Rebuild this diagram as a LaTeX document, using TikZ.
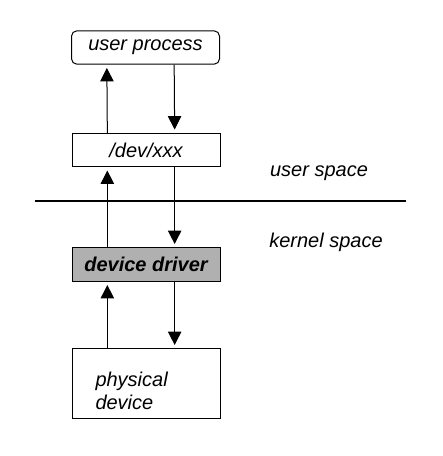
\documentclass[tikz,border=0pt]{standalone}
\usepackage{fontspec}
\setmainfont{Liberation Sans}
\usetikzlibrary{arrows.meta}

\tikzset{every picture/.style={line width=0.75pt}}
\tikzset{
  layerbox/.style={draw, minimum width=111pt, minimum height=25pt, inner sep=0pt, font=\fontsize{15}{18}\selectfont\itshape},
  flow/.style={-{Triangle[width=10pt,length=10pt]}, shorten >=2.5pt},
  spacelbl/.style={inner sep=0.75pt, font=\fontsize{15}{18}\selectfont\itshape}
}

\begin{document}
\begin{tikzpicture}[x=0.75pt,y=0.75pt,yscale=-1,xscale=1]
    \useasboundingbox (0,0) rectangle (442,456);

    % boxes
    \node [layerbox, rounded corners=4pt] (usrproc) at (145.5,47.5) {user process};
    \node [layerbox] (devxx) at (146,150) {/dev/xxx};
    \node [layerbox, fill={rgb,255:red,176;green,176;blue,176}, font=\fontsize{15}{18}\selectfont\bfseries\itshape] (drv) at (146,264.5) {device driver};
    \node [layerbox, minimum height=52pt] (phys) at (146,383.5) {};
    \node [anchor=west, align=left, inner sep=0pt, font=\fontsize{15}{17}\selectfont\itshape] (physlbl) at (95,391) {physical\\device};

    % separator line
    \coordinate (sepL) at (35,201);
    \coordinate (sepR) at (406,201);
    \draw [line width=1.5pt] (sepL) -- (sepR);

    % up and down arrows
    \draw [flow] ([xshift=-29pt]devxx.north) -- ([xshift=-29pt]usrproc.south);
    \draw [flow] ([xshift=21.5pt]usrproc.south) -- ([xshift=21.5pt]devxx.north);
    \draw [flow] ([xshift=-29pt]drv.north) -- ([xshift=-29pt]devxx.south);
    \draw [flow] ([xshift=21.5pt]devxx.south) -- ([xshift=21.5pt]drv.north);
    \draw [flow] ([xshift=-29pt]phys.north) -- ([xshift=-29pt]drv.south);
    \draw [flow] ([xshift=21.5pt]drv.south) -- ([xshift=21.5pt]phys.north);

    % Text Node
    \node [spacelbl] (usrspace) at (319,173) {user space};
    % Text Node
    \node [spacelbl] (krnspace) at (326,242) {kernel space};

\end{tikzpicture}
\end{document}
